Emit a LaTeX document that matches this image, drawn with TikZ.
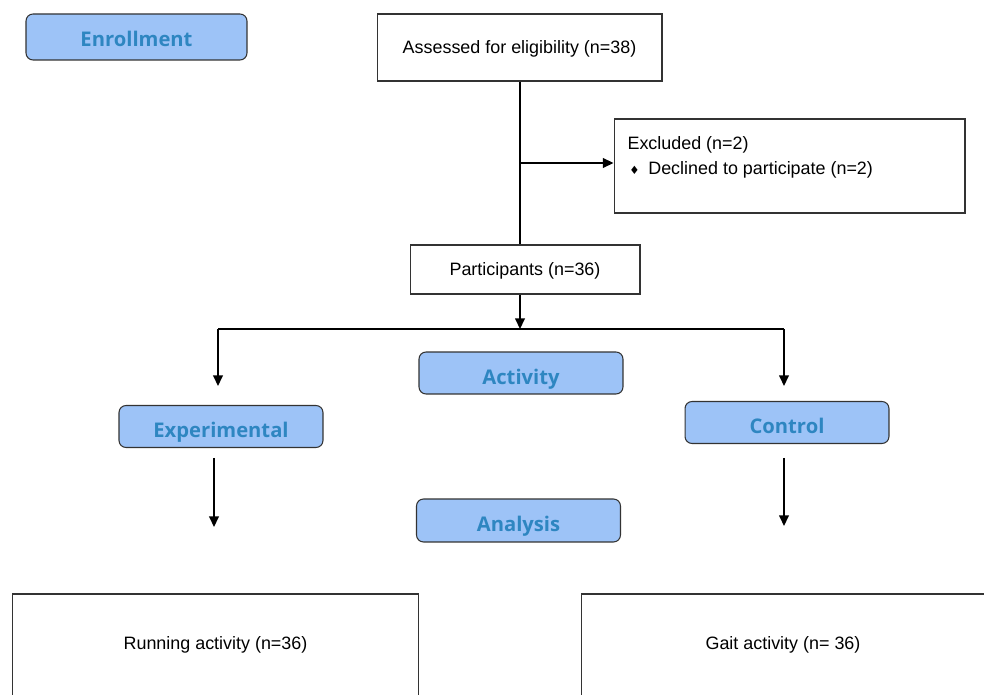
\documentclass[tikz,border=0pt]{standalone}
\usepackage{fontspec}
\setmainfont{Liberation Sans}
\newfontfamily\headfont{Open Sans}
\newfontfamily\symfont{DejaVu Sans}
\usetikzlibrary{arrows.meta}
\definecolor{headfill}{RGB}{157,195,247}
\definecolor{headtext}{RGB}{46,134,193}

\begin{document}
\begin{tikzpicture}[x=0.02cm,y=-0.02cm,>={Triangle[length=6pt,width=5.5pt]},line width=0.8pt,
  head node/.style={draw=black!80,fill=headfill,rounded corners=4pt,line width=0.6pt,
    text=headtext,font=\headfont\bfseries\fontsize{11.5}{13}\selectfont,
    text height=12.8pt,text depth=0pt,
    minimum width=4.08cm,minimum height=0.84cm},
  box node/.style={draw=black!80,line width=0.6pt,text depth=0pt,font=\fontsize{10.2}{12}\selectfont},
  plain text/.style={text depth=0pt,font=\fontsize{10.2}{12}\selectfont}]

  \useasboundingbox (0,0) rectangle (984,695);
  \clip (0,0) rectangle (984,695);

  \node[head node,minimum width=4.42cm,minimum height=0.92cm,text height=10.5pt] (enroll) at (136.5,37) {Enrollment};
  \node[head node] (activity) at (521,373) {Activity};
  \node[head node] (exp) at (221,426.5) {Experimental};
  \node[head node] (ctrl) at (787,422.5) {Control};
  \node[head node,minimum height=0.86cm] (analysis) at (518.5,520.5) {Analysis};

  \node[box node,minimum width=5.7cm,minimum height=1.34cm] (assess) at (519.5,47.5) {Assessed for eligibility (n=38)};
  \node[box node,minimum width=7.02cm,minimum height=1.88cm] (excl) at (789.5,166) {};
  \node[plain text,anchor=north west,align=left,font=\fontsize{10.2}{14.2}\selectfont] (excltext) at (621,130)
    {Excluded (n=2)\\[0pt]\hspace*{1pt}{\symfont\fontsize{6.5}{6}\selectfont ♦}\hspace{5pt}Declined to participate (n=2)};
  \node[box node,minimum width=4.6cm,minimum height=0.98cm] (part) at (525,269.5) {Participants (n=36)};

  \node[box node,minimum width=8.14cm,minimum height=3cm] (run) at (215.5,669) {};
  \node[plain text] (runtext) at (215.5,643) {Running activity (n=36)};
  \node[box node,minimum width=8.14cm,minimum height=3cm] (gait) at (784.5,669) {};
  \node[plain text] (gaittext) at (783,643) {Gait activity (n= 36)};

  \coordinate (split) at (520,329);
  \coordinate (exclin) at (520,163);
  \coordinate (left) at (218,329);
  \coordinate (right) at (784,329);
  \coordinate (expin) at (218,386);
  \coordinate (ctrlin) at (784,386);
  \coordinate (expout) at (214,458);
  \coordinate (expend) at (214,527);
  \coordinate (ctrlout) at (784,458);
  \coordinate (ctrlend) at (784,526);

  \draw (assess.south -| split) -- (split |- part.north);
  \draw[->] (exclin) -- (exclin -| excl.west);
  \draw[->] (part.south -| split) -- (split);
  \draw (left) -- (right);
  \draw[->] (left) -- (expin);
  \draw[->] (right) -- (ctrlin);
  \draw[->] (expout) -- (expend);
  \draw[->] (ctrlout) -- (ctrlend);
\end{tikzpicture}
\end{document}
